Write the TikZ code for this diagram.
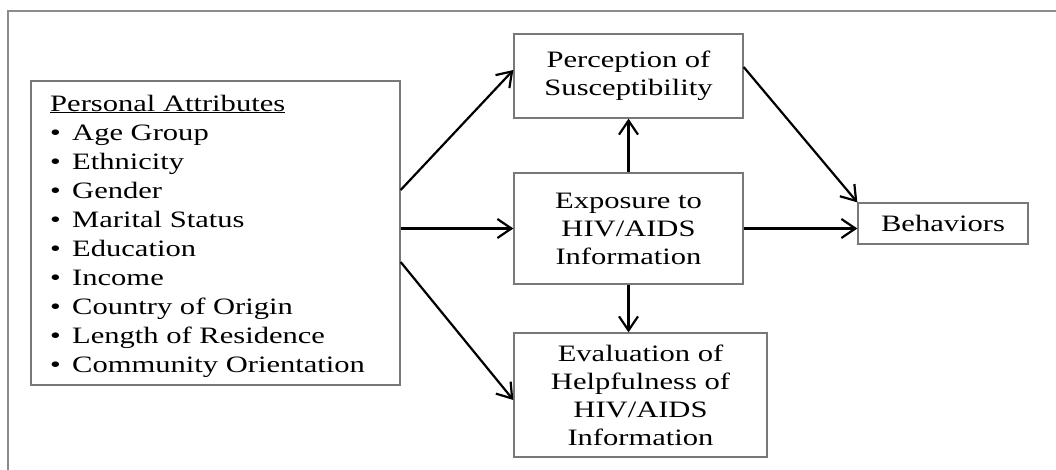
\documentclass[tikz,border=0pt]{standalone}
\usepackage{fontspec}
\setmainfont{Liberation Serif}[FakeStretch=1.30]
\usetikzlibrary{arrows.meta}
\definecolor{boxgray}{RGB}{120,120,120}
\definecolor{framegray}{RGB}{140,140,140}
\begin{document}
\begin{tikzpicture}[x=1pt,y=-1pt,
  box/.style={draw=boxgray, line width=1.3pt, inner sep=0pt},
  lbl/.style={font=\fontsize{23.5}{28}\selectfont, align=center},
  arr/.style={-{Straight Barb[length=14pt,width=19pt]}, line width=2.2pt, black},
]
\useasboundingbox (0,0) rectangle (1056,470);
\draw[framegray, line width=1.2pt] (8,470) -- (8,11) -- (1056,11);

\node[box, minimum width=369pt, minimum height=304pt] (pa) at (215.5,233) {};
\node[anchor=base west, align=left, inner sep=0pt, font=\fontsize{23.5}{29}\selectfont] (palist) at (50,372)
  {\underline{Personal Attributes}\\
   \makebox[22pt][l]{•}Age Group\\
   \makebox[22pt][l]{•}Ethnicity\\
   \makebox[22pt][l]{•}Gender\\
   \makebox[22pt][l]{•}Marital Status\\
   \makebox[22pt][l]{•}Education\\
   \makebox[22pt][l]{•}Income\\
   \makebox[22pt][l]{•}Country of Origin\\
   \makebox[22pt][l]{•}Length of Residence\\
   \makebox[22pt][l]{•}Community Orientation};

\node[box, lbl, minimum width=229pt, minimum height=84pt] (perc) at (628.5,76) {Perception of\\Susceptibility};
\node[box, lbl, minimum width=229pt, minimum height=111pt] (expo) at (628.5,228.5) {Exposure to\\HIV/AIDS\\Information};
\node[box, lbl, minimum width=253pt, minimum height=124pt] (eval) at (640.5,395) {Evaluation of\\Helpfulness of\\HIV/AIDS\\Information};
\node[box, lbl, minimum width=170pt, minimum height=41pt] (behav) at (943,223.5) {Behaviors};

\draw[arr] ([yshift=43pt]pa.east) -- ([yshift=6pt]perc.west);
\draw[arr] (pa.east |- expo.west) -- (expo.west);
\draw[arr] ([yshift=-29pt]pa.east) -- ([yshift=-5pt]eval.west);
\draw[arr] (expo.north) -- (perc.south);
\draw[arr] (expo.south) -- (expo.south |- eval.north);
\draw[arr] ([yshift=9pt]perc.east) -- (behav.north west);
\draw[arr] (expo.east) -- (expo.east -| behav.west);
\end{tikzpicture}
\end{document}
